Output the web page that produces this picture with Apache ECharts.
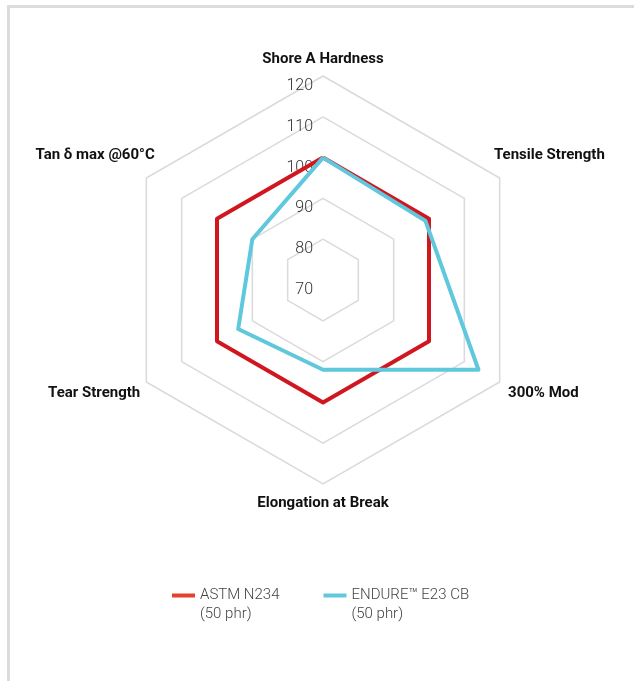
<!DOCTYPE html>
<html>
<head>
<meta charset="utf-8">
<script src="https://cdn.jsdelivr.net/npm/echarts@6/dist/echarts.min.js"></script>
<style>
  html, body { margin: 0; padding: 0; overflow: hidden; background: #fff; }
  .frame {
    position: absolute;
    left: 7px;
    top: 5px;
    width: 700px;
    height: 700px;
    border-top: 3px solid #dcdcdc;
    border-left: 3px solid #dcdcdc;
  }
  #radar {
    position: absolute;
    left: 0;
    top: 0;
    width: 634px;
    height: 681px;
  }
</style>
</head>
<body>
<div class="frame"></div>
<div id="radar"></div>
<script>
// indicators, counter-clockwise from the top
var indicatorNames = [
  "Shore A Hardness",
  "Tan δ max @60°C",
  "Tear Strength",
  "Elongation at Break",
  "300% Mod",
  "Tensile Strength"
];
var scaleMin = 70;
var scaleMax = 120;

var seriesNames = ["ASTM N234\n(50 phr)", "ENDURE™ E23 CB\n(50 phr)"];
var astmValues = [100, 100, 100, 100, 100, 100];
var endureValues = [100, 90, 94, 92, 114, 99];

// shift of each axis name from its anchor point (padding trick)
var namePadding = [
  [0, 0, 0, 0],
  [0, 73, 29, 0],
  [6, 75, 0, 0],
  [4, 0, 0, 0],
  [6, 0, 0, 58],
  [0, 0, 29, 70]
];

var rich = {};
for (var i = 0; i < indicatorNames.length; i++) {
  rich["n" + i] = {
    padding: namePadding[i],
    fontSize: 15,
    fontWeight: "bold",
    fontFamily: "Roboto",
    color: "#111"
  };
}

var indicator = [];
for (var i = 0; i < indicatorNames.length; i++) {
  var obj = { name: indicatorNames[i], min: scaleMin, max: scaleMax };
  if (i == 0) {
    // tick labels only on the top axis
    obj.axisLabel = {
      show: true,
      margin: 10,
      color: "#333",
      fontSize: 16,
      fontWeight: 300,
      fontFamily: "Roboto",
      verticalAlign: "top",
      padding: [2, 0, 0, 0]
    };
  }
  indicator.push(obj);
}

var chart = echarts.init(document.getElementById("radar"));
var option = {
  animation: false,
  legend: {
    left: 167,
    top: 562,
    itemWidth: 23,
    itemHeight: 4,
    itemGap: 44,
    icon: "rect",
    // blank first line so the icon sits next to the first text line
    formatter: function (name) {
      return "\n" + name;
    },
    textStyle: {
      fontSize: 15,
      fontWeight: 300,
      fontFamily: "Roboto",
      color: "#444",
      lineHeight: 19
    },
    data: [
      { name: seriesNames[0], itemStyle: { color: "#e5412d" } },
      { name: seriesNames[1], itemStyle: { color: "#62c8dc" } }
    ]
  },
  radar: {
    center: [323, 280],
    radius: 204,
    startAngle: 90,
    splitNumber: 5,
    shape: "polygon",
    nameGap: 17,
    axisName: {
      align: "center",
      verticalAlign: "middle",
      formatter: function (name) {
        var k = indicatorNames.indexOf(name);
        return "{n" + k + "|" + name + "}";
      },
      rich: rich
    },
    splitLine: { lineStyle: { color: "#dadada", width: 1.5 } },
    splitArea: { show: false },
    axisLine: { show: false },
    axisTick: { show: false },
    axisLabel: { show: false },
    indicator: indicator
  },
  series: [
    {
      type: "radar",
      symbol: "none",
      data: [
        {
          name: seriesNames[0],
          value: astmValues,
          lineStyle: { color: "#d0171f", width: 4 },
          itemStyle: { color: "#d0171f" }
        },
        {
          name: seriesNames[1],
          value: endureValues,
          lineStyle: { color: "#5fc8dc", width: 4 },
          itemStyle: { color: "#5fc8dc" }
        }
      ]
    }
  ]
};
chart.setOption(option, true);
</script>
</body>
</html>
